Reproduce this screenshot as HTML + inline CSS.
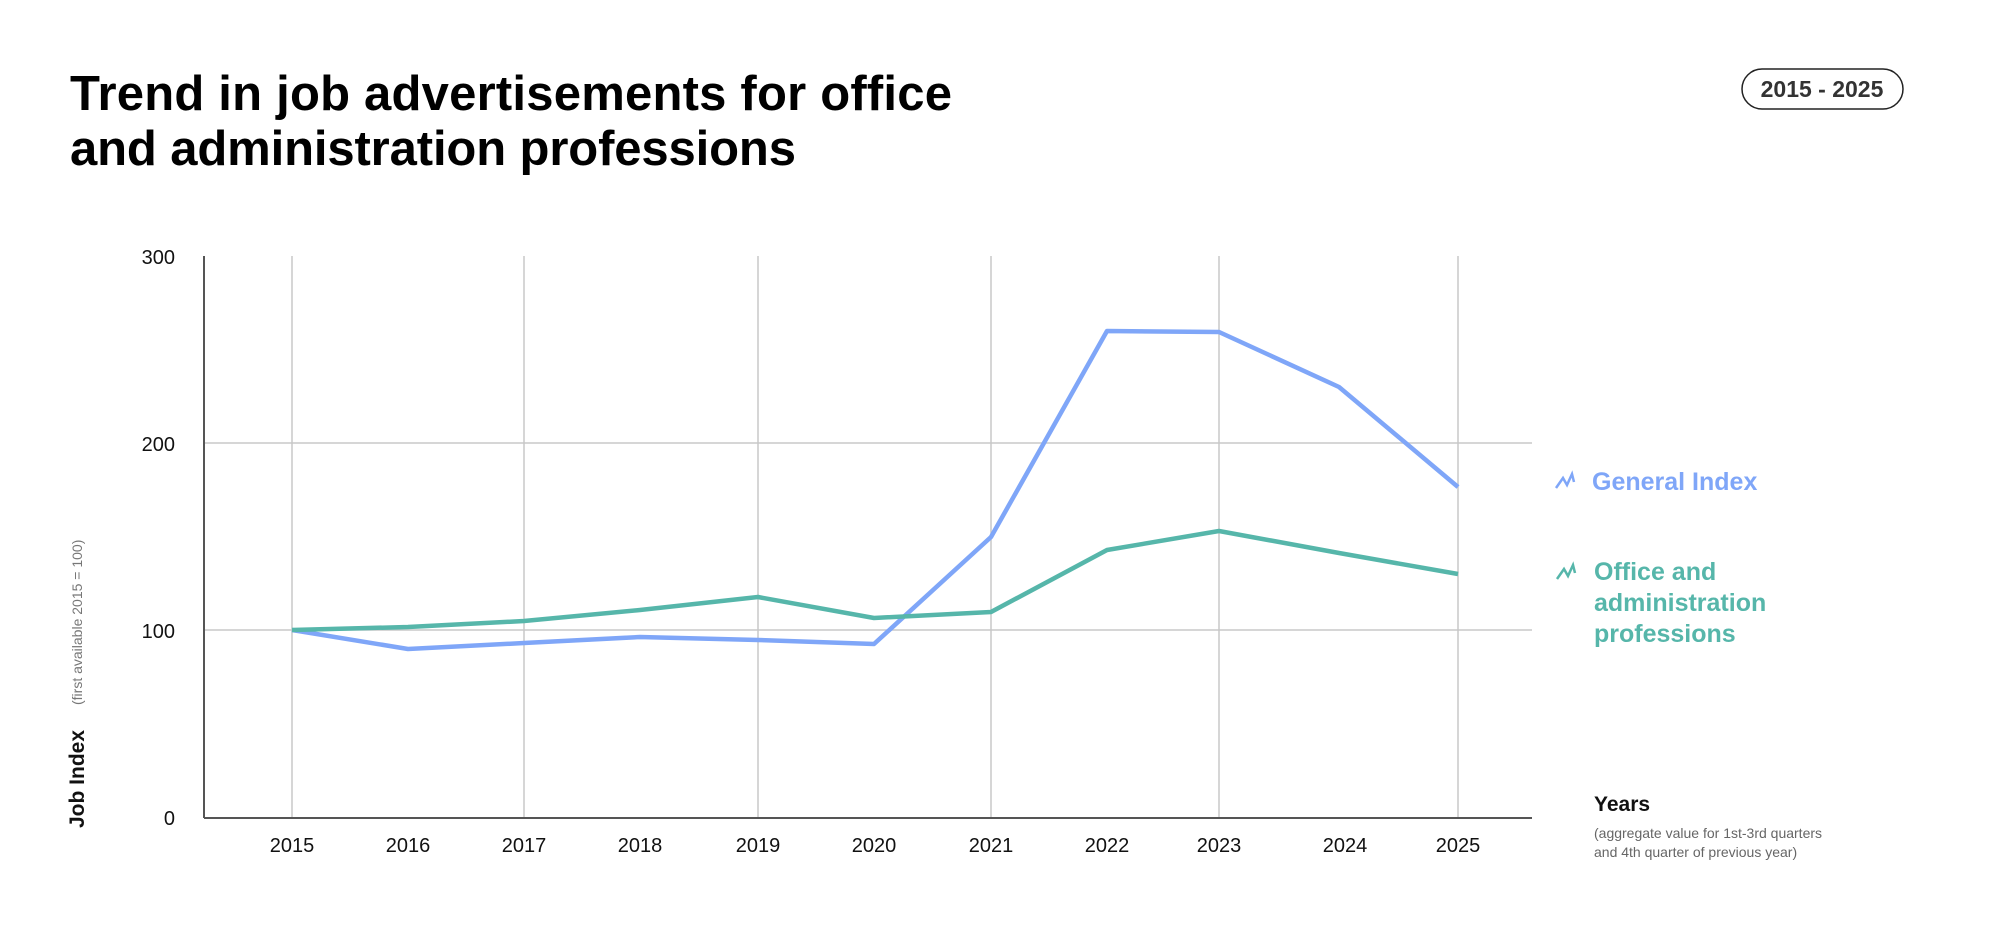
<!DOCTYPE html>
<html><head><meta charset="utf-8"><style>
body{margin:0;background:#fff;}
svg text{font-family:"Liberation Sans",sans-serif;}
</style></head><body>
<svg width="2000" height="921" viewBox="0 0 2000 921" xmlns="http://www.w3.org/2000/svg">
<rect width="2000" height="921" fill="#fff"/>
<text x="70" y="110" font-size="49" font-weight="bold" fill="#000" textLength="882">Trend in job advertisements for office</text>
<text x="70" y="165" font-size="49" font-weight="bold" fill="#000" textLength="726">and administration professions</text>
<rect x="1742" y="69" width="161" height="40" rx="20" fill="none" stroke="#222" stroke-width="1.5"/>
<text x="1822" y="97" font-size="23" font-weight="bold" fill="#333" text-anchor="middle">2015 - 2025</text>
<g stroke="#c8c8c8" stroke-width="1.5">
<line x1="204" y1="443" x2="1532" y2="443"/>
<line x1="204" y1="630" x2="1532" y2="630"/>
<line x1="292" y1="256" x2="292" y2="818"/>
<line x1="524" y1="256" x2="524" y2="818"/>
<line x1="758" y1="256" x2="758" y2="818"/>
<line x1="991" y1="256" x2="991" y2="818"/>
<line x1="1219" y1="256" x2="1219" y2="818"/>
<line x1="1458" y1="256" x2="1458" y2="818"/>
</g>
<line x1="204" y1="256" x2="204" y2="818" stroke="#555" stroke-width="2"/>
<line x1="204" y1="818" x2="1532" y2="818" stroke="#555" stroke-width="2"/>
<g font-size="20" fill="#111" text-anchor="end">
<text x="175" y="264">300</text><text x="175" y="451">200</text><text x="175" y="638">100</text><text x="175" y="825">0</text>
</g>
<g font-size="20" fill="#111" text-anchor="middle">
<text x="292" y="852">2015</text><text x="408" y="852">2016</text><text x="524" y="852">2017</text><text x="640" y="852">2018</text><text x="758" y="852">2019</text><text x="874" y="852">2020</text><text x="991" y="852">2021</text><text x="1107" y="852">2022</text><text x="1219" y="852">2023</text><text x="1345" y="852">2024</text><text x="1458" y="852">2025</text>
</g>
<text transform="translate(84,828) rotate(-90)" font-size="21" font-weight="bold" fill="#111">Job Index</text>
<text transform="translate(82,705) rotate(-90)" font-size="14" fill="#777">(first available 2015 = 100)</text>
<polyline fill="none" stroke="#7fa6f8" stroke-width="4.5" stroke-linejoin="round" points="292,630 408,649 524,643 640,637 758,640 874,644 991,537 1107,331 1219,332 1339,387 1458,487"/>
<polyline fill="none" stroke="#56b6aa" stroke-width="4.5" stroke-linejoin="round" points="292,630 408,627 524,621 640,610 758,597 874,618 991,612 1107,550 1219,531 1339,553 1458,574"/>
<polyline fill="none" stroke="#7fa6f8" stroke-width="2.5" points="1556,488 1563,478 1567,485 1572,474 1574,482"/>
<text x="1592" y="490" font-size="25" font-weight="bold" fill="#7fa6f8">General Index</text>
<polyline fill="none" stroke="#56b6aa" stroke-width="2.5" points="1557,579 1564,569 1568,576 1573,565 1575,573"/>
<g font-size="25" font-weight="bold" fill="#56b6aa">
<text x="1594" y="580">Office and</text><text x="1594" y="611">administration</text><text x="1594" y="642">professions</text>
</g>
<text x="1594" y="811" font-size="21" font-weight="bold" fill="#111">Years</text>
<text x="1594" y="838" font-size="14" fill="#666">(aggregate value for 1st-3rd quarters</text>
<text x="1594" y="857" font-size="14" fill="#666">and 4th quarter of previous year)</text>
</svg>
</body></html>
